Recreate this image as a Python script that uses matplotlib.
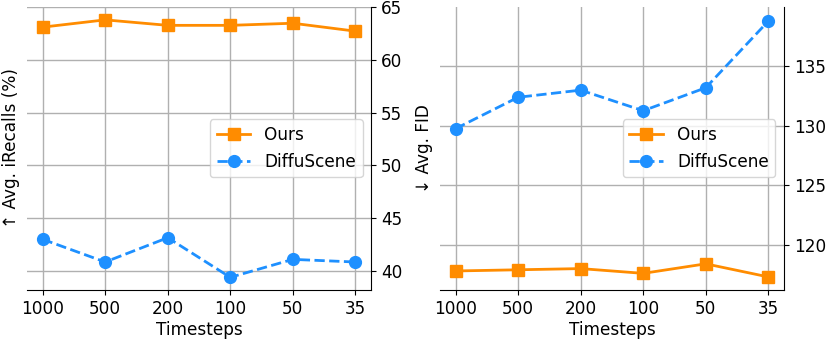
import matplotlib.pyplot as plt

timesteps = ["1000", "500", "200", "100", "50", "35"]
recall_ours = [63.08, 63.77, 63.25, 63.25, 63.45, 62.7]
recall_diffuscene = [43.0, 40.85, 43.15, 39.4, 41.1, 40.85]
fid_ours = [117.8, 117.9, 118.0, 117.6, 118.4, 117.3]
fid_diffuscene = [129.76, 132.4, 133.0, 131.27, 133.2, 138.8]

plt.rcParams['font.size'] = 12.2
fig = plt.figure(figsize=(8.3, 3.43), dpi=100)
ax1 = fig.add_axes([0.0325, 0.1545, 0.4145, 0.8255])
ax2 = fig.add_axes([0.530, 0.1545, 0.4145, 0.8255])

panels = [
    (ax1, recall_ours, recall_diffuscene, "↑ Avg. iRecalls (%)", (38.2, 65), [40, 45, 50, 55, 60, 65]),
    (ax2, fid_ours, fid_diffuscene, "↓ Avg. FID", (116.2, 140), [120, 125, 130, 135]),
]

x = range(len(timesteps))
for ax, ours, diff, ylabel, ylim, yticks in panels:
    ax.plot(x, ours, color="darkorange", marker="s", markersize=8.5, linewidth=2, label="Ours")
    ax.plot(x, diff, color="dodgerblue", marker="o", markersize=8.5, linewidth=2,
            linestyle="--", label="DiffuScene")
    ax.set_xticks(list(x))
    ax.set_xticklabels(timesteps)
    ax.set_xlim(-0.25, 5.25)
    ax.set_ylim(*ylim)
    ax.set_yticks(yticks)
    ax.yaxis.tick_right()
    ax.yaxis.set_label_position("left")
    ax.set_ylabel(ylabel, labelpad=5)
    ax.set_xlabel("Timesteps", labelpad=2)
    ax.grid(True, color="#b0b0b0", linewidth=1)
    ax.set_axisbelow(True)
    ax.spines["left"].set_visible(False)
    ax.spines["top"].set_visible(False)
    ax.legend(loc="center right")

fig.savefig("out.png", dpi=100)
